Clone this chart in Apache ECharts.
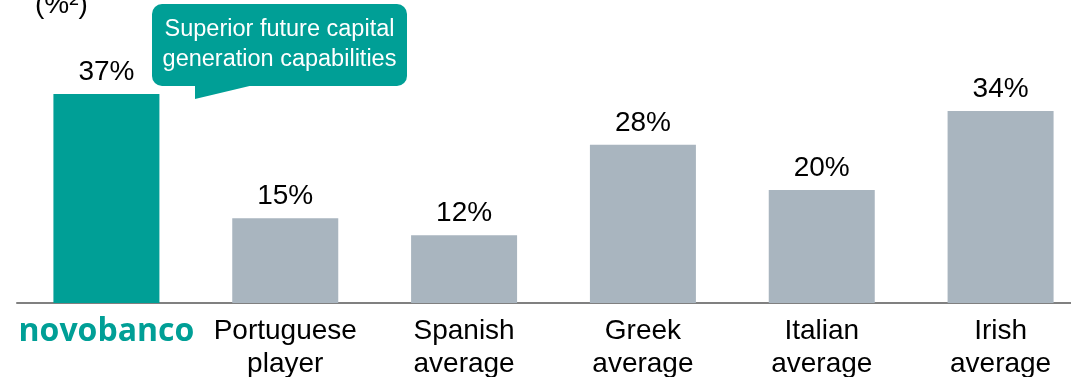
<!DOCTYPE html>
<html>
<head>
<meta charset="utf-8">
<script src="https://cdn.jsdelivr.net/npm/echarts@6/dist/echarts.min.js"></script>
<style>
html,body{margin:0;padding:0;background:#fff;}
#chart{width:1071px;height:377px;}
</style>
</head>
<body>
<div id="chart"></div>
<script>
var categories = ['novobanco', 'Portuguese\nplayer', 'Spanish\naverage', 'Greek\naverage', 'Italian\naverage', 'Irish\naverage'];
var values = [37, 15, 12, 28, 20, 34];
var unitLabel = '(%²)';
var calloutText = 'Superior future capital\ngeneration capabilities';

var TEAL = '#009F96';
var GREY = '#A9B5BF';
var FONT = '"Liberation Sans", Arial, sans-serif';

var chart = echarts.init(document.getElementById('chart'), null, {renderer: 'canvas'});
chart.setOption({
  animation: false,
  grid: {left: 17, top: 77, right: -19, bottom: 74, containLabel: false, outerBoundsMode: 'none'},
  xAxis: {
    type: 'category',
    data: categories,
    axisLine: {lineStyle: {color: '#808080', width: 2}},
    axisTick: {show: false},
    axisLabel: {
      interval: 0,
      margin: 12,
      color: '#000',
      fontFamily: FONT,
      fontSize: 28,
      lineHeight: 33,
      formatter: function (v, i) {
        return i === 0 ? '{logo|' + v + '}' : v;
      },
      rich: {
        logo: {
          color: TEAL,
          fontFamily: '"Open Sans", "Noto Sans", sans-serif',
          fontWeight: 'bold',
          fontSize: 32,
          padding: [0, 0, 0, 0]
        }
      }
    }
  },
  yAxis: {
    type: 'value',
    min: 0,
    max: 40,
    show: false,
    splitLine: {show: false}
  },
  series: [{
    type: 'bar',
    data: values.map(function (v, i) {
      return {value: v, itemStyle: {color: i === 0 ? TEAL : GREY}};
    }),
    barWidth: 106,
    label: {
      show: true,
      position: 'top',
      distance: 8,
      color: '#000',
      fontFamily: FONT,
      fontSize: 28,
      formatter: '{c}%'
    }
  }],
  graphic: [
    {
      type: 'text',
      left: 35,
      top: -9,
      style: {text: unitLabel, fontFamily: FONT, fontSize: 28, fill: '#000'}
    },
    {
      type: 'rect',
      shape: {x: 152, y: 4, width: 255, height: 82, r: 10},
      style: {fill: TEAL}
    },
    {
      type: 'polygon',
      shape: {points: [[195, 84], [258, 84], [195, 99]]},
      style: {fill: TEAL}
    },
    {
      type: 'text',
      x: 279.5,
      y: 45,
      style: {
        text: calloutText,
        fontFamily: FONT,
        fontSize: 23.5,
        lineHeight: 30,
        fill: '#fff',
        align: 'center',
        verticalAlign: 'middle'
      }
    }
  ]
});
</script>
</body>
</html>
